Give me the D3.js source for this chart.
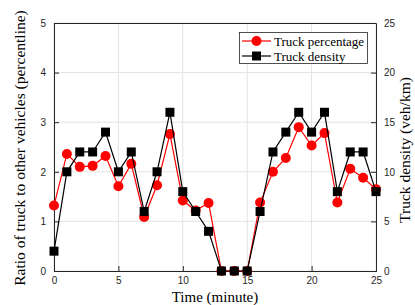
<!DOCTYPE html>
<html><head><meta charset="utf-8">
<script src="https://cdn.jsdelivr.net/npm/d3@7"></script>
<style>body{margin:0;background:#fff}</style>
</head><body>
<svg id="c" width="415" height="305"></svg>
<script>
const times = [0,1,2,3,4,5,6,7,8,9,10,11,12,13,14,15,16,17,18,19,20,21,22,23,24,25];
const truckPercentage = [1.32,2.36,2.10,2.12,2.32,1.71,2.16,1.09,1.73,2.76,1.42,1.22,1.37,0,0,0,1.38,2.0,2.28,2.90,2.53,2.78,1.38,2.06,1.88,1.65];
const truckDensity = [2,10,12,12,14,10,12,6,10,16,8,6,4,0,0,0,6,12,14,16,14,16,8,12,12,8];
const xTicks = [0,5,10,15,20,25];
const yLeftTicks = [0,1,2,3,4,5];
const yRightTicks = [0,5,10,15,20,25];

const svg = d3.select("#c");
const L=54, R=376, T=23, B=271;
const x = d3.scaleLinear().domain([0,25]).range([L,R]);
const yL = d3.scaleLinear().domain([0,5]).range([B,T]);
const yR = d3.scaleLinear().domain([0,25]).range([B,T]);

// grid
svg.append("g").selectAll("line").data(xTicks).join("line")
  .attr("x1",d=>x(d)).attr("x2",d=>x(d)).attr("y1",T).attr("y2",B)
  .attr("stroke","#e3e3e3").attr("stroke-width",1);
svg.append("g").selectAll("line").data(yLeftTicks).join("line")
  .attr("x1",L).attr("x2",R).attr("y1",d=>yL(d)).attr("y2",d=>yL(d))
  .attr("stroke","#e3e3e3").attr("stroke-width",1);

// box
svg.append("line").attr("x1",L).attr("x2",R).attr("y1",T+0.5).attr("y2",T+0.5).attr("stroke","#262626");
svg.append("line").attr("x1",L).attr("x2",R).attr("y1",B+0.5).attr("y2",B+0.5).attr("stroke","#262626");

const tickFont = "Liberation Sans, Arial, sans-serif";
const fmt = d3.format("d");
// axes
const gx = svg.append("g").attr("transform",`translate(0,${B})`)
  .call(d3.axisBottom(x).tickValues(xTicks).tickFormat(fmt).tickSize(-5).tickPadding(6));
const gl = svg.append("g").attr("transform",`translate(${L},0)`)
  .call(d3.axisLeft(yL).tickValues(yLeftTicks).tickFormat(fmt).tickSize(-5).tickPadding(8));
const gr = svg.append("g").attr("transform",`translate(${R},0)`)
  .call(d3.axisRight(yR).tickValues(yRightTicks).tickFormat(fmt).tickSize(-5).tickPadding(8));
[gx,gl,gr].forEach(g=>{
  g.select(".domain").attr("stroke","#262626");
  g.selectAll(".tick line").attr("stroke","#262626");
  g.selectAll("text").attr("font-family",tickFont).attr("font-size",10).attr("fill","#262626");
});

// lines
const lineL = d3.line().x((d,i)=>x(times[i])).y(d=>yL(d));
const lineR = d3.line().x((d,i)=>x(times[i])).y(d=>yR(d));
svg.append("path").datum(truckPercentage).attr("d",lineL).attr("fill","none").attr("stroke","#ff0000").attr("stroke-width",1.2);
svg.append("g").selectAll("circle").data(truckPercentage).join("circle")
  .attr("cx",(d,i)=>x(times[i])).attr("cy",d=>yL(d)).attr("r",5).attr("fill","#ff0000");
svg.append("path").datum(truckDensity).attr("d",lineR).attr("fill","none").attr("stroke","#000").attr("stroke-width",1.2);
svg.append("g").selectAll("rect").data(truckDensity).join("rect")
  .attr("x",(d,i)=>x(times[i])-4.5).attr("y",d=>yR(d)-4.5).attr("width",9).attr("height",9).attr("fill","#000");

// labels
const serif = "Liberation Serif, Times New Roman, serif";
svg.append("text").attr("x",215).attr("y",302).attr("text-anchor","middle")
  .attr("font-family",serif).attr("font-size",15).text("Time (minute)");
svg.append("text").attr("transform",`translate(25,148) rotate(-90)`).attr("text-anchor","middle")
  .attr("font-family",serif).attr("font-size",15.5).text("Ratio of truck to other vehicles (percentline)");
svg.append("text").attr("transform",`translate(410,150) rotate(-90)`).attr("text-anchor","middle")
  .attr("font-family",serif).attr("font-size",15.5).text("Truck density (veh/km)");

// legend
const lg = svg.append("g");
lg.append("rect").attr("x",239.5).attr("y",32.5).attr("width",128).attr("height",31)
  .attr("fill","#fff").attr("stroke","#262626").attr("stroke-width",0.8);
lg.append("line").attr("x1",242).attr("x2",271).attr("y1",41).attr("y2",41).attr("stroke","#ff0000").attr("stroke-width",1.2);
lg.append("circle").attr("cx",256.5).attr("cy",41).attr("r",5).attr("fill","#ff0000");
lg.append("line").attr("x1",242).attr("x2",271).attr("y1",56).attr("y2",56).attr("stroke","#000").attr("stroke-width",1.2);
lg.append("rect").attr("x",252).attr("y",51.5).attr("width",9).attr("height",9).attr("fill","#000");
lg.append("text").attr("x",274).attr("y",45.5).attr("font-family",serif).attr("font-size",13).text("Truck percentage");
lg.append("text").attr("x",274).attr("y",60.5).attr("font-family",serif).attr("font-size",13).text("Truck density");
</script>
</body></html>
